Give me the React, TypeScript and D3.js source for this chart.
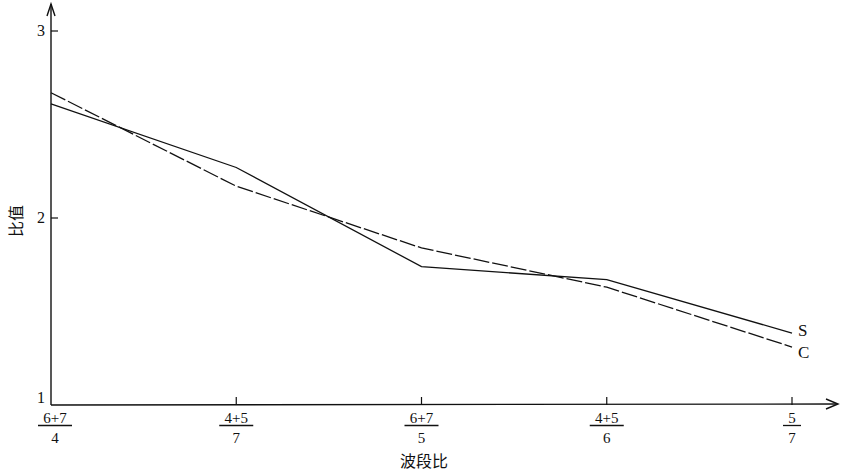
import React from "react";
import * as d3 from "d3";

const numerators = ["6+7", "4+5", "6+7", "4+5", "5"];
const denominators = ["4", "7", "5", "6", "7"];
const sValues = [2.61, 2.27, 1.74, 1.67, 1.385];
const cValues = [2.67, 2.17, 1.84, 1.63, 1.31];
const yTicks = [1, 2, 3];
const seriesNames = ["S", "C"];
const xTitle = "波段比";
const yTitle = "比值";

const W = 844;
const H = 474;
const serif = "'Liberation Serif', 'DejaVu Serif', serif";
const cjk = "'Noto Sans CJK SC', sans-serif";

export default function App() {
  const idx = d3.range(numerators.length);
  const x = d3.scalePoint<number>().domain(idx).range([51, 792]);
  const y = d3.scaleLinear().domain([1, 3]).range([405, 31]);
  const line = d3
    .line<number>()
    .x((_, i) => x(i) as number)
    .y((v) => y(v));
  const x0 = 51;
  const y0 = y(1);
  const series = [
    { name: seriesNames[0], values: sValues, dash: undefined as string | undefined, dy: 3 },
    { name: seriesNames[1], values: cValues, dash: "16,3", dy: 11 },
  ];
  return (
    <svg
      width={W}
      height={H}
      style={{ position: "absolute", left: 0, top: 0, background: "#fff" }}
    >
      {/* axes */}
      <line x1={x0} y1={y0} x2={x0} y2={4} stroke="#111" strokeWidth={1.4} />
      <path d={`M${x0 - 4},16 L${x0},4 L${x0 + 4},16`} fill="none" stroke="#111" strokeWidth={1.4} />
      <line x1={x0} y1={y0} x2={837} y2={y0 - 1} stroke="#111" strokeWidth={1.4} />
      <path d={`M826,${y0 - 6} L838,${y0 - 1} L826,${y0 + 4}`} fill="none" stroke="#111" strokeWidth={1.4} />
      {/* y ticks */}
      {yTicks.map((t) => (
        <g key={t}>
          {t !== 1 && <line x1={x0} x2={x0 + 7} y1={y(t)} y2={y(t)} stroke="#111" strokeWidth={1.2} />}
          <text
            x={x0 - 6}
            y={t === 1 ? y(t) - 2 : y(t) + 5}
            textAnchor="end"
            fontFamily={serif}
            fontSize={16}
            fill="#111"
          >
            {t}
          </text>
        </g>
      ))}
      {/* x ticks */}
      {idx.map((i) => {
        const cx = x(i) as number;
        const lx = i === 0 ? cx + 4 : cx;
        const bw = numerators[i].length * 8 + 10;
        return (
          <g key={i}>
            {i > 0 && <line x1={cx} x2={cx} y1={y0 - 8} y2={y0} stroke="#111" strokeWidth={1.2} />}
            <text x={lx} y={423} textAnchor="middle" fontFamily={serif} fontSize={15} fill="#111">
              {numerators[i]}
            </text>
            <line x1={lx - bw / 2} x2={lx + bw / 2} y1={425.5} y2={425.5} stroke="#111" strokeWidth={1.3} />
            <text x={lx} y={443} textAnchor="middle" fontFamily={serif} fontSize={15} fill="#111">
              {denominators[i]}
            </text>
          </g>
        );
      })}
      {/* series */}
      {series.map((s) => {
        const last = s.values[s.values.length - 1];
        return (
          <g key={s.name}>
            <path
              d={line(s.values) as string}
              fill="none"
              stroke="#111"
              strokeWidth={1.3}
              strokeDasharray={s.dash}
            />
            <text
              x={(x(idx.length - 1) as number) + 6}
              y={y(last) + s.dy}
              fontFamily={serif}
              fontSize={17}
              fill="#111"
            >
              {s.name}
            </text>
          </g>
        );
      })}
      {/* titles */}
      <text x={424} y={467} textAnchor="middle" fontFamily={cjk} fontSize={16} fill="#111">
        {xTitle}
      </text>
      <text
        transform={`translate(22,221) rotate(-90)`}
        textAnchor="middle"
        fontFamily={cjk}
        fontSize={16}
        fill="#111"
      >
        {yTitle}
      </text>
    </svg>
  );
}
